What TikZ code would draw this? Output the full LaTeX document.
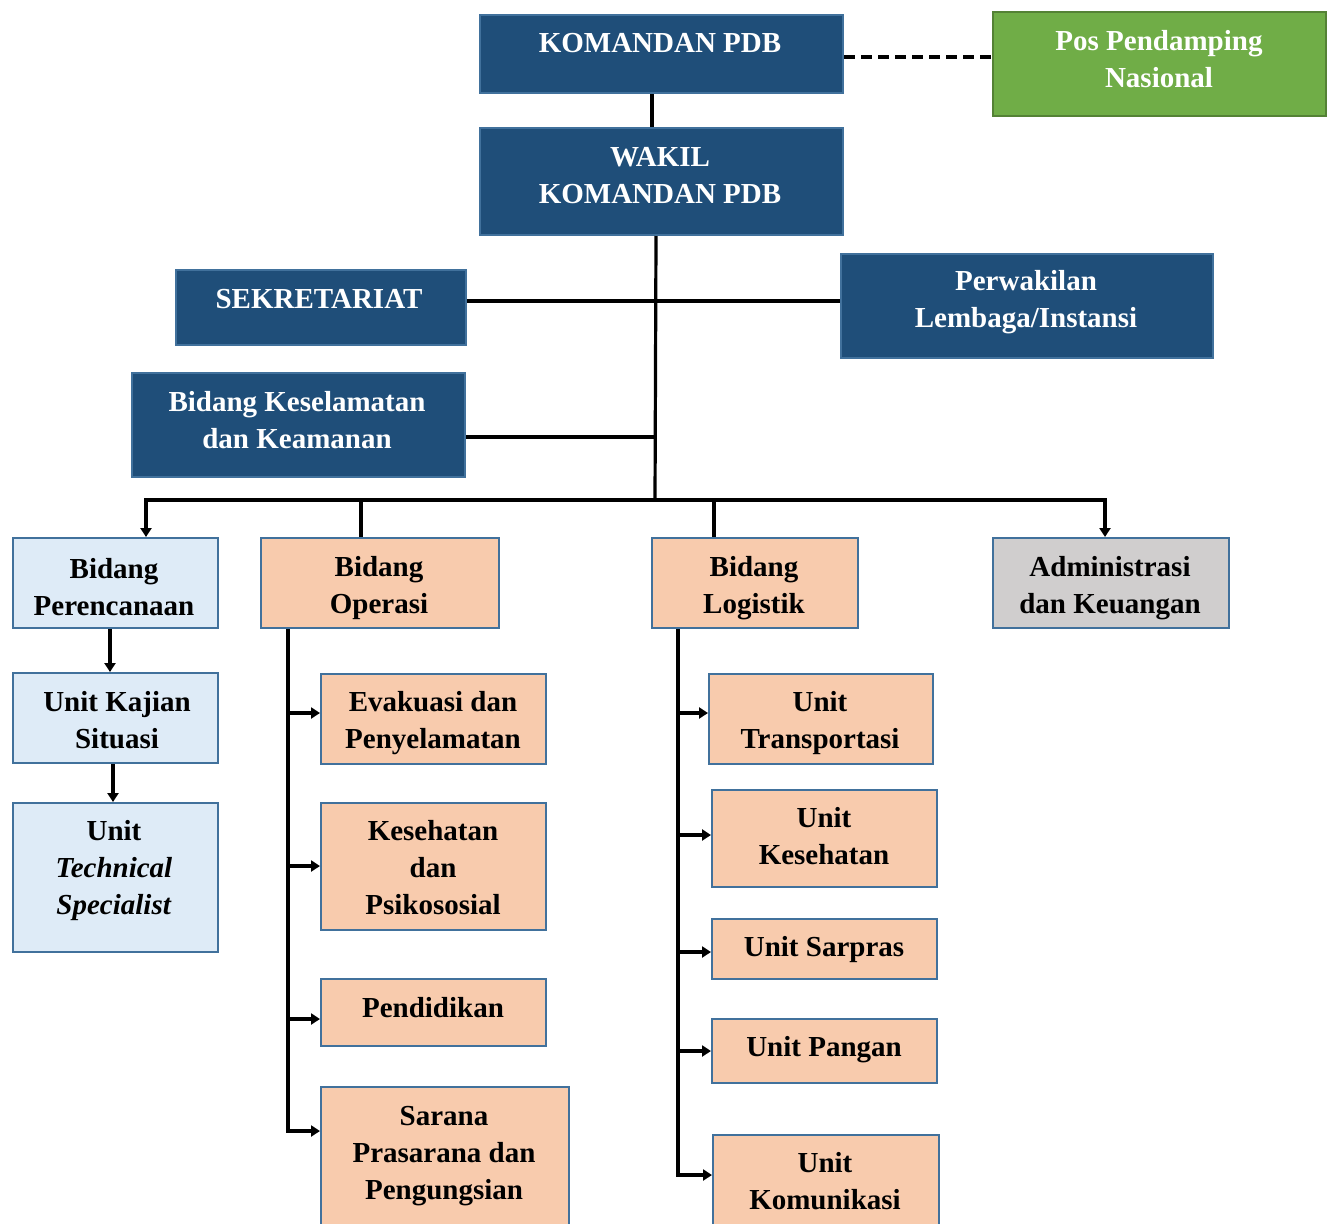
\documentclass[tikz,border=0pt]{standalone}
\usepackage{fontspec}
\setmainfont{Liberation Serif}
\usetikzlibrary{arrows.meta}
\definecolor{dark}{HTML}{1F4E79}
\definecolor{bord}{HTML}{41719C}
\definecolor{grn}{HTML}{70AD47}
\definecolor{grnb}{HTML}{548235}
\definecolor{lblue}{HTML}{DEEBF7}
\definecolor{peach}{HTML}{F8CBAD}
\definecolor{lgrey}{HTML}{D0CECE}
\tikzset{
 box/.style={draw=bord, line width=2pt, anchor=north west, inner sep=0pt},
 darkbox/.style={box, fill=dark},
 greenbox/.style={box, fill=grn, draw=grnb},
 bluebox/.style={box, fill=lblue},
 peachbox/.style={box, fill=peach},
 greybox/.style={box, fill=lgrey},
 txt/.style={font=\fontsize{29}{37}\selectfont\bfseries, align=center, inner sep=0pt},
 wtxt/.style={txt, text=white},
 conn/.style={line width=3.2pt},
 arr/.style={conn, -{Triangle[length=9pt,width=11pt]}},
}
\begin{document}
\begin{tikzpicture}[x=1pt,y=-1pt]
\clip (0,0) rectangle (1329,1223);
\fill[white] (0,0) rectangle (1329,1223);
% boxes
\node[darkbox, minimum width=363, minimum height=78] (kom) at (479,14) {};
\node[greenbox, minimum width=333, minimum height=104] (pos) at (992,11) {};
\node[darkbox, minimum width=363, minimum height=107] (wakil) at (479,127) {};
\node[darkbox, minimum width=290, minimum height=75] (sek) at (175,269) {};
\node[darkbox, minimum width=372, minimum height=104] (perw) at (840,253) {};
\node[darkbox, minimum width=333, minimum height=104] (kesk) at (131,372) {};
\node[bluebox, minimum width=205, minimum height=90] (bper) at (12,537) {};
\node[peachbox, minimum width=238, minimum height=90] (bop) at (260,537) {};
\node[peachbox, minimum width=206, minimum height=90] (blog) at (651,537) {};
\node[greybox, minimum width=236, minimum height=90] (adm) at (992,537) {};
\node[bluebox, minimum width=205, minimum height=90] (ukaj) at (12,672) {};
\node[bluebox, minimum width=205, minimum height=149] (uts) at (12,802) {};
\node[peachbox, minimum width=225, minimum height=90] (evak) at (320,673) {};
\node[peachbox, minimum width=225, minimum height=127] (kesp) at (320,802) {};
\node[peachbox, minimum width=225, minimum height=67] (pend) at (320,978) {};
\node[peachbox, minimum width=248, minimum height=150] (sar) at (320,1086) {};
\node[peachbox, minimum width=224, minimum height=90] (utr) at (708,673) {};
\node[peachbox, minimum width=225, minimum height=97] (ukes) at (711,789) {};
\node[peachbox, minimum width=225, minimum height=60] (usar) at (711,918) {};
\node[peachbox, minimum width=225, minimum height=64] (upan) at (711,1018) {};
\node[peachbox, minimum width=226, minimum height=110] (ukom) at (712,1134) {};
% texts
\node[wtxt] (kom-t) at (660,43) {KOMANDAN PDB};
\node[wtxt] (pos-t) at (1159,59) {Pos Pendamping\\Nasional};
\node[wtxt] (wakil-t) at (660,175.5) {WAKIL\\KOMANDAN PDB};
\node[wtxt] (sek-t) at (319,299) {SEKRETARIAT};
\node[wtxt] (perw-t) at (1026,302) {Perwakilan\\Lembaga/Instansi};
\node[wtxt] (kesk-t) at (297,420) {Bidang Keselamatan\\dan Keamanan};
\node[txt] (bper-t) at (114,587) {Bidang\\Perencanaan};
\node[txt] (bop-t) at (379,588) {Bidang\\Operasi};
\node[txt] (blog-t) at (754,588) {Bidang\\Logistik};
\node[txt] (adm-t) at (1110,588) {Administrasi\\dan Keuangan};
\node[txt] (ukaj-t) at (117,720) {Unit Kajian\\Situasi};
\node[txt] (uts-t) at (114,871) {Unit\\\textit{Technical}\\\textit{Specialist}};
\node[txt] (evak-t) at (433,723) {Evakuasi dan\\Penyelamatan};
\node[txt] (kesp-t) at (433,868) {Kesehatan\\dan\\Psikososial};
\node[txt] (pend-t) at (433,1008) {Pendidikan};
\node[txt] (sar-t) at (444,1156) {Sarana\\Prasarana dan\\Pengungsian};
\node[txt] (utr-t) at (820,723) {Unit\\Transportasi};
\node[txt] (ukes-t) at (824,836.5) {Unit\\Kesehatan};
\node[txt] (usar-t) at (824,950) {Unit Sarpras};
\node[txt] (upan-t) at (824,1050) {Unit Pangan};
\node[txt] (ukom-t) at (825,1181.5) {Unit\\Komunikasi};
% connectors top
\draw[conn] ([xshift=-9.5pt]kom.south) -- ([xshift=-9.5pt]wakil.north);
\draw[conn, dash pattern=on 11pt off 6pt] (kom.east |- 0,57) -- (pos.west |- 0,57);
\coordinate (bus) at (655,500);
\draw[conn] ([xshift=-5.5pt]wakil.south) -- (bus);
\draw[conn] (sek.east |- 0,301) -- (perw.west |- 0,301);
\draw[conn] (kesk.east |- 0,437) -- (bus |- 0,437);
\coordinate (busL) at (146,500);
\coordinate (busR) at (1105,500);
\draw[conn] ([xshift=-1.6pt]busL) -- ([xshift=1.6pt]busR);
\draw[arr] (busL) -- (busL |- bper.north);
\draw[conn] (361,500) -- (361,0 |- bop.north);
\draw[conn] (714,500) -- (714,0 |- blog.north);
\draw[arr] (busR) -- (busR |- adm.north);
% perencanaan chain
\draw[arr] (110,0 |- bper.south) -- (110,0 |- ukaj.north);
\draw[arr] (113,764) -- (113,0 |- uts.north);
% operasi
\coordinate (opT) at (288,0 |- bop.south);
\draw[conn] (opT) -- (288,1132.6);
\draw[arr] (288,713) -- (evak.west |- 0,713);
\draw[arr] (288,866) -- (kesp.west |- 0,866);
\draw[arr] (288,1019) -- (pend.west |- 0,1019);
\draw[arr] (286.4,1131) -- (sar.west |- 0,1131);
% logistik
\coordinate (lgT) at (678,629);
\draw[conn] (lgT) -- (678,1176.6);
\draw[arr] (678,713) -- (utr.west |- 0,713);
\draw[arr] (678,835) -- (ukes.west |- 0,835);
\draw[arr] (678,952) -- (usar.west |- 0,952);
\draw[arr] (678,1051) -- (upan.west |- 0,1051);
\draw[arr] (676.4,1175) -- (ukom.west |- 0,1175);
\end{tikzpicture}
\end{document}
